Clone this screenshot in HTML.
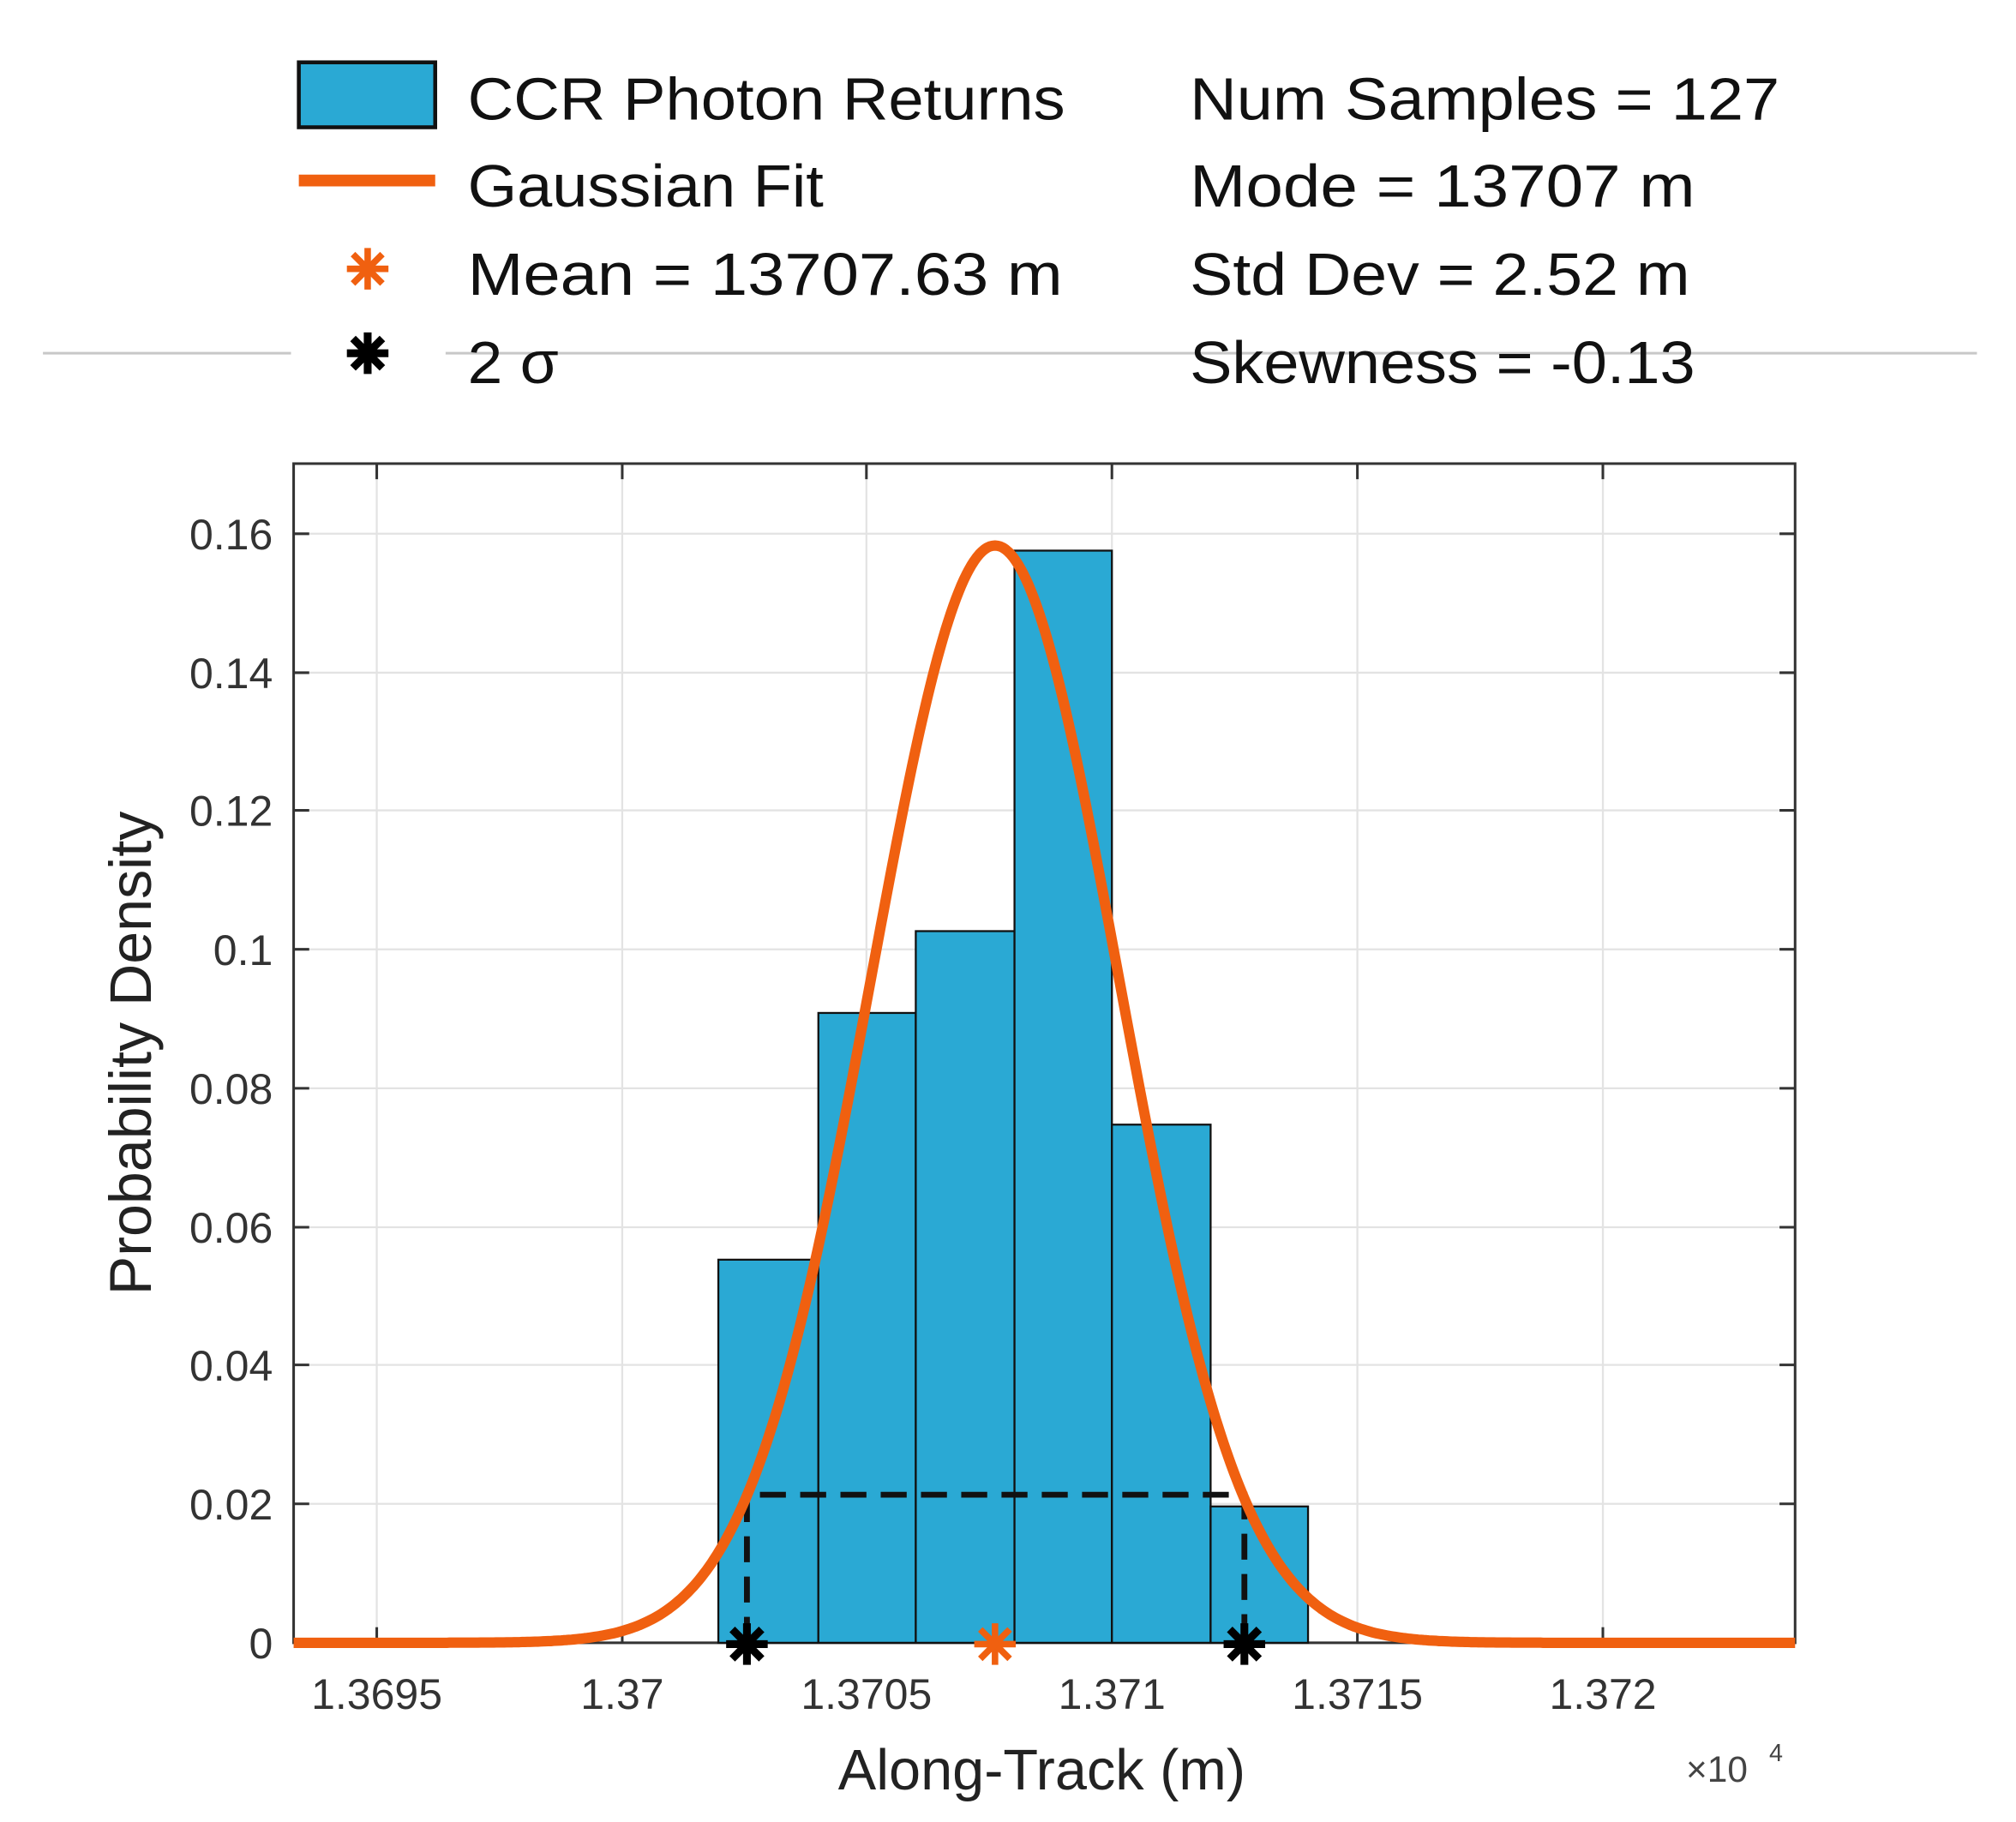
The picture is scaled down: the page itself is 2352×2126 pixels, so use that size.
<!DOCTYPE html>
<html><head><meta charset="utf-8"><style>
html,body{margin:0;padding:0;background:#fff}
svg{display:block}
text{font-family:"Liberation Sans",sans-serif}
</style></head><body>
<svg id="s" width="2352" height="2126" viewBox="0 0 1552 1403" xmlns="http://www.w3.org/2000/svg">
<rect width="1552" height="1403" fill="#fff"/>
<line x1="33" y1="272" x2="224" y2="272" stroke="#c8c8c8" stroke-width="2"/>
<line x1="343" y1="272" x2="1522" y2="272" stroke="#c8c8c8" stroke-width="2"/>
<rect x="230" y="48" width="105" height="50" fill="#2aa9d4" stroke="#111" stroke-width="3"/>
<line x1="230" y1="139" x2="335" y2="139" stroke="#f06010" stroke-width="9"/>
<g font-size="46" fill="#111">
<text x="360" y="92" textLength="460" lengthAdjust="spacingAndGlyphs">CCR Photon Returns</text>
<text x="360" y="159" textLength="274" lengthAdjust="spacingAndGlyphs">Gaussian Fit</text>
<text x="360" y="227" textLength="458" lengthAdjust="spacingAndGlyphs">Mean = 13707.63 m</text>
<text x="360" y="295" textLength="70" lengthAdjust="spacingAndGlyphs">2 σ</text>
<text x="916" y="92" textLength="454" lengthAdjust="spacingAndGlyphs">Num Samples = 127</text>
<text x="916" y="159" textLength="389" lengthAdjust="spacingAndGlyphs">Mode = 13707 m</text>
<text x="916" y="227" textLength="385" lengthAdjust="spacingAndGlyphs">Std Dev = 2.52 m</text>
<text x="916" y="295" textLength="389" lengthAdjust="spacingAndGlyphs">Skewness = -0.13</text>
</g>
<g id="stars"></g>
<g stroke="#e3e3e3" stroke-width="1.5">
<line x1="290" y1="357" x2="290" y2="1265"/><line x1="479" y1="357" x2="479" y2="1265"/>
<line x1="667" y1="357" x2="667" y2="1265"/><line x1="856" y1="357" x2="856" y2="1265"/>
<line x1="1045" y1="357" x2="1045" y2="1265"/><line x1="1234" y1="357" x2="1234" y2="1265"/>
<line x1="226" y1="411" x2="1382" y2="411"/><line x1="226" y1="518" x2="1382" y2="518"/>
<line x1="226" y1="624" x2="1382" y2="624"/><line x1="226" y1="731" x2="1382" y2="731"/>
<line x1="226" y1="838" x2="1382" y2="838"/><line x1="226" y1="945" x2="1382" y2="945"/>
<line x1="226" y1="1051" x2="1382" y2="1051"/><line x1="226" y1="1158" x2="1382" y2="1158"/>
</g>
<rect x="226" y="357" width="1156" height="908" fill="none" stroke="#333" stroke-width="2"/>
<g id="ticks" stroke="#333" stroke-width="2"></g>
<g fill="#2aa9d4" stroke="#111" stroke-width="1.5">
<rect x="553" y="970" width="77" height="295"/>
<rect x="630" y="780" width="75" height="485"/>
<rect x="705" y="717" width="76" height="548"/>
<rect x="781" y="424" width="75" height="841"/>
<rect x="856" y="866" width="76" height="399"/>
<rect x="932" y="1160" width="75" height="105"/>
</g>
<path d="M575 1265 V1151 H958 V1265" fill="none" stroke="#111" stroke-width="4.5" stroke-dasharray="20 11"/>
<path id="g" fill="none" stroke="#f06010" stroke-width="8" stroke-linejoin="round"/>
<g id="stars2"></g>
<g font-size="33" fill="#333" text-anchor="end">
<text x="210" y="423">0.16</text><text x="210" y="530">0.14</text><text x="210" y="636">0.12</text>
<text x="210" y="743">0.1</text><text x="210" y="850">0.08</text><text x="210" y="957">0.06</text>
<text x="210" y="1063">0.04</text><text x="210" y="1170">0.02</text><text x="210" y="1277">0</text>
</g>
<g font-size="33" fill="#333" text-anchor="middle">
<text x="290" y="1316">1.3695</text><text x="479" y="1316">1.37</text><text x="667" y="1316">1.3705</text>
<text x="856" y="1316">1.371</text><text x="1045" y="1316">1.3715</text><text x="1234" y="1316">1.372</text>
</g>
<text x="802" y="1378" font-size="44" fill="#222" text-anchor="middle">Along-Track (m)</text>
<text x="1298" y="1372" font-size="28" fill="#444">×10</text><text x="1362" y="1356" font-size="19" fill="#444">4</text>
<text transform="translate(116,811) rotate(-90)" font-size="45" fill="#222" text-anchor="middle">Probability Density</text>
</svg>
<script>
var s=document.getElementById('s'),ns="http://www.w3.org/2000/svg";
function star(g,x,y,r,c,w){for(var i=0;i<4;i++){var a=i*Math.PI/4,l=document.createElementNS(ns,'line');
l.setAttribute('x1',x-r*Math.sin(a));l.setAttribute('y1',y-r*Math.cos(a));l.setAttribute('x2',x+r*Math.sin(a));l.setAttribute('y2',y+r*Math.cos(a));
l.setAttribute('stroke',c);l.setAttribute('stroke-width',w);g.appendChild(l);}}
var st=document.getElementById('stars'),st2=document.getElementById('stars2');
star(st,283,207,16,'#f06010',5);star(st,283,272,16,'#000',6);
star(st2,575,1266,16,'#000',6);star(st2,766,1266,16,'#f06010',5);star(st2,958,1266,16,'#000',6);
var d='';for(var x=226;x<=1382;x+=2){var m=(x-766)/95.3;var y=1265-0.1583*Math.exp(-m*m/2)/0.02*106.75;d+=(x==226?'M':'L')+x+' '+y.toFixed(1);}
document.getElementById('g').setAttribute('d',d);
var t=document.getElementById('ticks');
function ln(a,b,c,e){var l=document.createElementNS(ns,'line');l.setAttribute('x1',a);l.setAttribute('y1',b);l.setAttribute('x2',c);l.setAttribute('y2',e);t.appendChild(l);}
[290,479,667,856,1045,1234].forEach(function(x){ln(x,1265,x,1253);ln(x,357,x,369);});
[411,518,624,731,838,945,1051,1158].forEach(function(y){ln(226,y,238,y);ln(1382,y,1370,y);});
</script>
</body></html>
